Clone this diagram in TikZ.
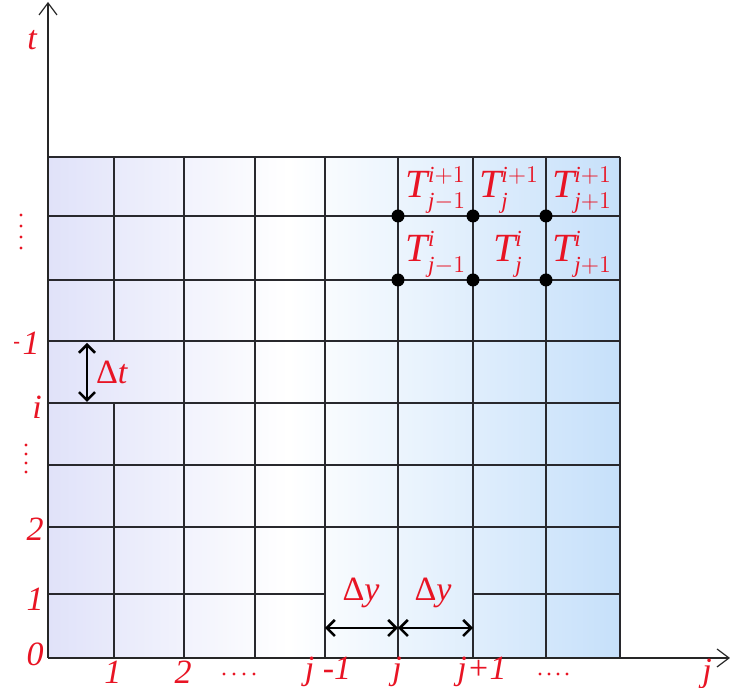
\documentclass[tikz,border=0pt]{standalone}
\usepackage{fontspec}
\setmainfont{Liberation Serif}
\usetikzlibrary{arrows.meta}
\definecolor{gridlav}{RGB}{224,226,249}
\definecolor{gridblue}{RGB}{198,224,250}
\definecolor{labelred}{RGB}{232,20,36}
\definecolor{gridgray}{RGB}{40,40,45}
\DeclareMathSizes{20}{20}{11.5}{8}
\pgfdeclarehorizontalshading{gridfade}{100bp}{color(0bp)=(gridlav); color(25bp)=(gridlav); color(46bp)=(white); color(75bp)=(gridblue); color(100bp)=(gridblue)}
\newcommand{\Tlab}[2]{$\mathit{T}^{#1\vphantom{j}}_{\vphantom{T}#2}$}
\tikzset{
  % --- LINES ---
  axis/.style={
    draw=black!85,
    line width=0.75pt,
    -{Straight Barb[length=6pt,width=9pt,line width=0.6pt]}
  },
  gridline/.style={
    draw=gridgray,
    line width=0.9pt
  },
  delta-arrow/.style={
    draw=black,
    line width=0.9pt,
    {Straight Barb[length=4pt,width=8pt,line width=1.3pt]}-{Straight Barb[length=4pt,width=8pt,line width=1.3pt]}
  },
  % --- LABELS ---
  num/.style={
    text=labelred,
    font=\fontsize{17}{17}\selectfont\itshape,
    inner sep=0pt
  },
  tval/.style={
    text=labelred,
    font=\fontsize{20}{20}\selectfont,
    inner sep=0pt
  },
  % --- MARKS ---
  node-dot/.style={
    circle,
    fill=black,
    inner sep=0pt,
    minimum size=6.5pt
  },
  reddot/.style={fill=labelred},
}
\begin{document}
\begin{tikzpicture}[x=0.5pt, y=-0.5pt]
  \useasboundingbox (0,0) rectangle (730,688);
  % --- shaded mesh
  \shade[shading=gridfade] (48,157) rectangle (620,658);
  \foreach \x in {184,255,325,398,473,546,620}
    \draw[gridline] (\x,157) -- (\x,658);
  \draw[gridline] (114,157) -- (114,341);
  \draw[gridline] (114,403) -- (114,658);
  \foreach \y in {157,216,280,341,403,465,527}
    \draw[gridline] (48,\y) -- (620,\y);
  \draw[gridline] (48,594) -- (325,594);
  \draw[gridline] (473,594) -- (620,594);
  % --- axes
  \coordinate (O) at (48,658);
  \coordinate (t-end) at (48,2);
  \coordinate (j-end) at (730,658);
  \draw[axis] (O) -- (t-end);
  \draw[axis] (O) -- (j-end);
  % --- t axis labels
  \node[num] (lab-t) at (32,40) {t};
  \begin{scope}
    \clip (14,320) rectangle (46,366);
    \node[num, anchor=east] (lab-ip1) at (40,343) {i+1};
  \end{scope}
  \node[num] (lab-i) at (37,407) {i};
  \node[num] (lab-t2) at (35,529) {2};
  \node[num] (lab-t1) at (35,599) {1};
  \node[num] (lab-t0) at (35,654) {0};
  \foreach \y in {215,226,237,248}
    \fill[reddot] (21,\y) circle[radius=0.85pt];
  \foreach \y in {445,454,463,472}
    \fill[reddot] (26,\y) circle[radius=0.85pt];
  % --- j axis labels
  \node[num] (lab-j1) at (113,672) {1};
  \node[num] (lab-j2) at (183,672) {2};
  \node[num] (lab-jm1) at (328,672) {j -1};
  \node[num] (lab-j) at (397,672) {j};
  \node[num] (lab-jp1) at (482,672) {j+1};
  \node[num] (lab-jaxis) at (707,674) {j};
  \foreach \x in {224,234,244,254,540,549,558,567}
    \fill[reddot] (\x,674) circle[radius=0.85pt];
  % --- step sizes
  \coordinate (dt-top) at (87,343);
  \coordinate (dt-bot) at (87,402);
  \draw[delta-arrow] (dt-top) -- (dt-bot);
  \node[num, font=\fontsize{17}{17}\selectfont] (lab-dt) at (112,372) {Δ\textit{t}};
  \coordinate (dy-a) at (325,628);
  \coordinate (dy-b) at (398,628);
  \coordinate (dy-c) at (473,628);
  \draw[delta-arrow] (dy-a) -- (dy-b);
  \draw[delta-arrow] (dy-b) -- (dy-c);
  \node[num, font=\fontsize{17}{17}\selectfont] (lab-dy1) at (361,593) {Δ\textit{y}};
  \node[num, font=\fontsize{17}{17}\selectfont] (lab-dy2) at (433,593) {Δ\textit{y}};
  % --- stencil points
  \node[node-dot] (p-jm1-ip1) at (398,216) {};
  \node[node-dot] (p-j-ip1)   at (473,216) {};
  \node[node-dot] (p-jp1-ip1) at (546,216) {};
  \node[node-dot] (p-jm1-i)   at (398,280) {};
  \node[node-dot] (p-j-i)     at (473,280) {};
  \node[node-dot] (p-jp1-i)   at (546,280) {};
  % --- temperature labels
  \node[tval] (T-jm1-ip1) at (436,190) {\Tlab{\mathit{i}+1}{\mathit{j}-1}};
  \node[tval] (T-j-ip1)   at (509,190) {\Tlab{\mathit{i}+1}{\mathit{j}}};
  \node[tval] (T-jp1-ip1) at (582,190) {\Tlab{\mathit{i}+1}{\mathit{j}+1}};
  \node[tval] (T-jm1-i)   at (436,254) {\Tlab{\mathit{i}}{\mathit{j}-1}};
  \node[tval] (T-j-i)     at (508,254) {\Tlab{\mathit{i}}{\mathit{j}}};
  \node[tval] (T-jp1-i)   at (582,254) {\Tlab{\mathit{i}}{\mathit{j}+1}};
\end{tikzpicture}
\end{document}
